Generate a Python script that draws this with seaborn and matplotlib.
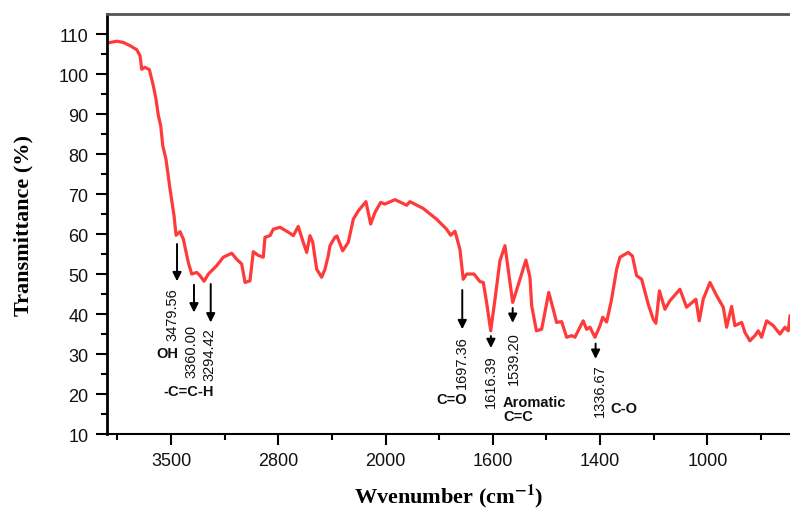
import numpy as np
import pandas as pd
from matplotlib import pyplot as plt
import seaborn as sns

# x is the tick position (1..6 = labelled ticks), y is transmittance in %
pos = [0.394, 0.494, 0.555, 0.618, 0.680, 0.711, 0.727, 0.758, 0.798, 0.835,
       0.860, 0.882, 0.904, 0.923, 0.953, 0.991, 1.028, 1.047, 1.084, 1.115,
       1.161, 1.193, 1.240, 1.270, 1.308, 1.348, 1.426, 1.487, 1.566, 1.612,
       1.659, 1.690, 1.736, 1.767, 1.811, 1.860, 1.876, 1.923, 1.953, 2.016,
       2.109, 2.140, 2.186, 2.233, 2.265, 2.295, 2.321, 2.358, 2.404, 2.435,
       2.466, 2.482, 2.528, 2.547, 2.600, 2.652, 2.699, 2.746, 2.817, 2.861,
       2.901, 2.954, 2.994, 3.088, 3.197, 3.227, 3.351, 3.476, 3.569, 3.607,
       3.647, 3.693, 3.724, 3.756, 3.824, 3.880, 3.911, 3.942, 3.980, 4.020,
       4.066, 4.113, 4.159, 4.185, 4.253, 4.308, 4.346, 4.362, 4.406, 4.455,
       4.521, 4.563, 4.594, 4.641, 4.688, 4.735, 4.765, 4.842, 4.874, 4.905,
       4.952, 4.999, 5.024, 5.061, 5.107, 5.154, 5.185, 5.262, 5.301, 5.340,
       5.387, 5.448, 5.495, 5.520, 5.553, 5.604, 5.650, 5.744, 5.806, 5.893,
       5.924, 5.961, 6.024, 6.086, 6.148, 6.179, 6.226, 6.256, 6.319, 6.350,
       6.396, 6.443, 6.474, 6.505, 6.552, 6.614, 6.676, 6.723, 6.754, 6.770]
trans = [107.7, 108.2, 107.9, 107.1, 106.1, 104.6, 101.2, 101.7, 101.1, 97.1,
         93.7, 89.6, 87.1, 82.1, 78.7, 71.2, 64.6, 59.7, 60.6, 58.7,
         52.9, 50.0, 50.4, 49.6, 48.2, 50.0, 52.1, 54.2, 55.2, 53.7,
         52.5, 47.9, 48.3, 55.6, 54.7, 54.2, 59.2, 59.6, 61.2, 61.7,
         60.2, 59.6, 61.9, 57.9, 55.4, 59.6, 58.0, 51.2, 49.2, 51.2,
         54.6, 57.1, 59.2, 59.5, 55.8, 57.9, 63.7, 65.8, 68.1, 62.5,
         65.4, 67.9, 67.5, 68.6, 67.2, 68.1, 66.4, 63.7, 61.2, 59.7,
         60.7, 56.2, 48.7, 50.0, 50.0, 48.1, 47.9, 42.9, 35.8, 43.7,
         53.3, 57.1, 47.9, 42.9, 48.7, 53.5, 49.2, 42.1, 35.8, 36.2,
         45.4, 41.2, 37.9, 38.1, 34.2, 34.6, 34.2, 38.3, 36.2, 36.7,
         34.2, 37.1, 39.2, 38.0, 43.7, 51.2, 54.2, 55.4, 54.5, 49.6,
         48.7, 42.5, 38.7, 37.7, 45.8, 41.2, 43.3, 46.2, 41.7, 43.7,
         38.3, 43.7, 47.9, 44.6, 41.7, 36.7, 41.9, 37.1, 37.9, 35.4,
         33.3, 34.6, 35.8, 34.2, 38.3, 37.1, 35.0, 36.7, 35.8, 39.6]

tick_pos = [1, 2, 3, 4, 5, 6]
tick_labels = ['3500', '2800', '2000', '1600', '1400', '1000']

# peak labels: text, arrow x, arrow start y, arrow end y, text x, text y
peak_text = ['3479.56', '3360.00', '3294.42', '1697.36', '1616.39', '1539.20', '1336.67']
peak_x = [1.056, 1.214, 1.370, 3.715, 3.982, 4.185, 4.958]
arrow_top = [58.2, 48.0, 48.2, 46.7, 35.2, 42.2, 33.3]
arrow_end = [47.5, 39.7, 37.2, 35.5, 30.8, 37.1, 28.1]
peak_tx = [1.016, 1.193, 1.363, 3.712, 3.982, 4.197, 4.998]
peak_ty = [40.1, 30.9, 30.2, 28.2, 23.4, 29.1, 21.2]

group_text = ['OH', '-C=C-H', 'C=O', 'Aromatic', 'C=C', 'C-O']
group_x = [0.963, 1.168, 3.619, 4.094, 4.094, 5.091]
group_y = [30.2, 20.7, 18.7, 18.1, 14.5, 16.5]
group_ha = ['center', 'center', 'center', 'left', 'left', 'left']

df = pd.DataFrame({'pos': pos, 'trans': trans})

sns.set_style('ticks')
plt.rcParams['font.family'] = ['Liberation Sans', 'DejaVu Sans']
plt.rcParams['mathtext.fontset'] = 'stix'

fig = plt.figure(figsize=(7.9, 5.1), dpi=100)
ax = fig.add_axes([0.135, 0.147, 0.865, 0.8235])

sns.lineplot(data=df, x='pos', y='trans', sort=False, color='#ff3a3a', lw=2.3, ax=ax)

for t, x, y0, y1, tx, ty in zip(peak_text, peak_x, arrow_top, arrow_end, peak_tx, peak_ty):
    ax.annotate('', xy=(x, y1), xytext=(x, y0),
                arrowprops=dict(arrowstyle='-|>', color='black', lw=1.4, mutation_scale=13))
    ax.text(tx, ty, t, rotation=90, ha='center', va='center', fontsize=10.5, color='#111111')

for t, x, y, ha in zip(group_text, group_x, group_y, group_ha):
    ax.text(x, y, t, ha=ha, va='center', fontsize=10.5, fontweight='bold', color='#111111')

ax.set_xlim(0.40, 6.77)
ax.set_ylim(10, 115)
ax.set_xticks(tick_pos)
ax.set_xticklabels(tick_labels)
ax.set_xticks(np.arange(0.5, 6.6, 1.0), minor=True)
ax.set_yticks(np.arange(10, 111, 10))
ax.set_yticks(np.arange(15, 111, 10), minor=True)
ax.tick_params(axis='both', which='major', length=8, width=1.5, labelsize=13, pad=5,
               color='black', labelcolor='#111111')
ax.tick_params(axis='both', which='minor', length=4, width=1.5, color='black')

ax.spines['right'].set_visible(False)
ax.spines['left'].set_linewidth(2)
ax.spines['left'].set_color('black')
ax.spines['bottom'].set_linewidth(1.5)
ax.spines['bottom'].set_color('black')
ax.spines['top'].set_linewidth(2)
ax.spines['top'].set_color('#555555')

ax.set_xlabel('Wvenumber (cm$^{\\mathbf{-1}}$)', family='Liberation Serif', fontweight='bold',
              fontsize=16, labelpad=9, color='black')
ax.set_ylabel('Transmittance (%)', family='Liberation Serif', fontweight='bold',
              fontsize=16, labelpad=18, color='black')

fig.savefig('out.png', dpi=100)
